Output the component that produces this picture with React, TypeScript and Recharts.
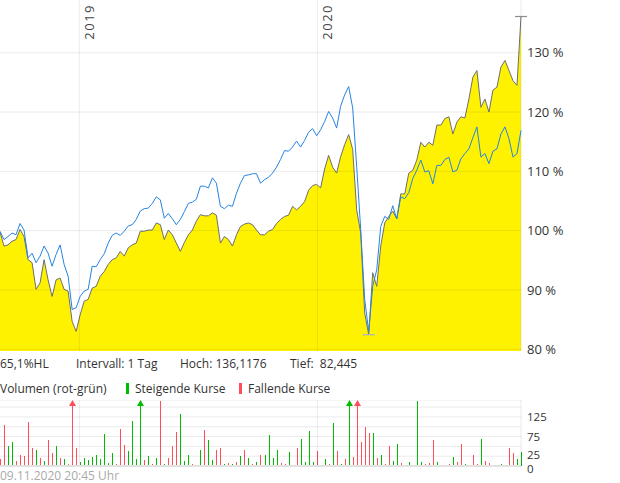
import { ComposedChart, BarChart, Area, Line, Bar, XAxis, YAxis, ReferenceLine, CartesianGrid } from 'recharts';

// Kurs in % (grau, gelb gefüllt) und Vergleichsindex (blau), ein Wert je ~4 px Zeitachse
const MAIN = [
  99.8, 97.4, 97.6, 98.2, 98.5, 100.2, 99.0, 95.1, 94.6, 90.1,
  91.2, 95.1, 91.7, 88.9, 91.7, 92.0, 90.1, 89.8, 84.7, 83.0,
  85.8, 88.1, 88.4, 90.3, 90.6, 92.3, 93.1, 94.3, 95.1, 95.4,
  96.5, 95.7, 97.1, 97.6, 97.9, 99.9, 99.9, 100.1, 100.1, 101.3,
  101.0, 98.5, 100.1, 99.3, 97.9, 96.5, 98.0, 99.3, 100.1, 101.6,
  102.7, 102.5, 102.5, 103.0, 102.6, 97.9, 99.0, 98.5, 97.4, 99.3,
  100.7, 101.1, 101.3, 101.0, 100.1, 99.3, 99.3, 99.9, 100.2, 101.2,
  101.9, 102.4, 102.6, 104.1, 103.5, 104.1, 104.9, 106.8, 107.6, 107.8,
  107.2, 110.4, 112.7, 110.7, 109.7, 112.5, 114.5, 116.2, 113.7, 103.5,
  99.6, 86.1, 82.445, 92.9, 90.6, 97.4, 101.3, 102.4, 103.3, 102.0,
  106.2, 106.2, 109.7, 110.2, 111.9, 114.9, 114.1, 114.9, 114.4, 117.8,
  117.8, 118.9, 119.2, 116.3, 118.3, 119.2, 119.0, 122.2, 125.9, 127.0,
  120.8, 122.2, 120.0, 123.7, 124.2, 127.6, 128.7, 127.0, 125.3, 124.5,
  136.1176,
];

const INDEX = [
  99.9, 98.5, 99.0, 99.6, 99.3, 101.2, 100.1, 95.4, 96.2, 94.6,
  95.7, 97.4, 96.2, 94.0, 96.0, 97.6, 94.3, 92.3, 86.7, 87.0,
  88.9, 89.8, 90.1, 94.0, 93.9, 95.1, 96.1, 97.9, 99.2, 99.6,
  99.2, 99.9, 100.8, 101.0, 101.9, 103.3, 103.7, 103.8, 104.6, 105.7,
  105.2, 102.1, 102.9, 102.0, 101.0, 101.9, 103.2, 104.6, 104.8, 105.3,
  107.5, 107.5, 107.2, 108.9, 108.0, 104.1, 103.7, 104.3, 104.1, 106.3,
  108.0, 109.3, 109.4, 109.6, 109.6, 108.0, 108.6, 109.0, 109.7, 110.7,
  112.0, 113.5, 113.4, 114.1, 115.1, 114.1, 115.2, 116.6, 117.2, 116.0,
  117.0, 118.4, 120.1, 119.0, 117.3, 121.0, 122.9, 124.3, 120.7, 110.8,
  100.2, 88.4, 83.0, 90.6, 93.4, 100.7, 102.4, 101.9, 104.2, 102.0,
  105.7, 105.4, 106.4, 108.8, 110.2, 111.9, 109.9, 110.1, 107.9, 111.0,
  111.0, 112.0, 112.4, 109.9, 110.2, 112.1, 113.0, 113.8, 115.7, 117.5,
  112.4, 113.0, 111.3, 113.4, 113.8, 116.3, 117.5, 115.5, 112.4, 113.0,
  116.9,
];

const VOLUME = [
  18, 104, 52, 62, 12, 29, 25, 112, 47, 42,
  21, 14, 65, 33, 52, 21, 17, 4, 200, 47,
  11, 20, 15, 22, 27, 17, 82, 7, 32, 6,
  94, 54, 37, 115, 17, 200, 15, 25, 5, 20,
  165, 6, 21, 52, 87, 132, 12, 27, 4, 3,
  40, 91, 67, 15, 42, 45, 6, 8, 5, 10,
  25, 42, 20, 6, 10, 27, 29, 79, 20, 40,
  8, 4, 35, 3, 46, 68, 10, 90, 10, 37,
  2, 18, 5, 110, 37, 5, 18, 200, 22, 200,
  61, 100, 85, 85, 21, 27, 4, 50, 12, 57,
  8, 2, 10, 2, 165, 10, 4, 8, 66, 11,
  3, 2, 6, 22, 10, 56, 5, 3, 27, 4,
  70, 12, 8, 3, 2, 6, 3, 46, 33, 18,
  36,
];

// u = steigend (grün), d = fallend (rot)
const VOL_DIR = (
  'dduudddddu' + 'duddududdd' + 'uuuuuuuuud' + 'dduuuududu' + 'duddduuudu' +
  'uduuddudud' + 'udududuuuu' + 'dduuduuuud' + 'uududududd' + 'dddududduu' +
  'duuduudddu' + 'dududduudd' + 'udduduuddu' + 'u'
).split('');

const PCT_TICKS = [80, 90, 100, 110, 120, 130];
const VOL_TICKS = [0, 25, 50, 75, 100, 125, 150];
const VOL_LABELS = [0, 25, 75, 125];
const YEAR_MARKS = [
  { label: '2019', pos: 19.8 },
  { label: '2020', pos: 79.2 },
];

const VOL_MAX = 168;
const GREEN = '#00bb00';
const RED = '#ff4d5a';
const GRID = 'rgba(0,0,0,0.08)';
const FONT = '"Open Sans", sans-serif';

const LAST = MAIN.length - 1;
const rows = MAIN.map((m, i) => ({ i, main: m, index: INDEX[i] }));
const volRows = VOLUME.map((v, i) => ({ i, v, dir: VOL_DIR[i] }));

const hi = Math.max(...MAIN);
const lo = Math.min(...MAIN);
const hiIdx = MAIN.indexOf(hi);
const loIdx = MAIN.indexOf(lo);
const de = (n: number) => String(n).replace('.', ',');

// kleine waagerechte Markierung an Hoch und Tief
const extremeDot = (props: any) => {
  const { cx, cy, index } = props;
  if (index !== hiIdx && index !== loIdx) return <g key={index} />;
  const color = index === hiIdx ? '#8c8c8c' : '#9fb0d8';
  return <line key={index} x1={cx - 6} x2={cx + 6} y1={cy} y2={cy} stroke={color} strokeWidth={1.2} />;
};

const yearLabel = (text: string) => (props: any) => {
  const x = props.viewBox.x + 15;
  return (
    <text transform={`translate(${x},4) rotate(-90)`} textAnchor="end" fontSize={13} fill="#444" letterSpacing={1.5} fontFamily={FONT}>
      {text}
    </text>
  );
};

// Volumen-Achse: nur 0, 25, 75, 125 beschriftet, 0 etwas tiefer gesetzt
const VolTick = (props: any) => {
  const { x, y, payload } = props;
  const v = payload.value;
  if (!VOL_LABELS.includes(v)) return <g />;
  return (
    <text x={x} y={y + (v === 0 ? 3 : v === 25 ? -1 : 0)} dy="0.355em" fontSize={11.5} fill="#333" fontFamily={FONT}>
      {v}
    </text>
  );
};

const VolBar = (props: any) => {
  const { x, y, width, height, payload, background } = props;
  const color = payload.dir === 'u' ? GREEN : RED;
  if (!height || height <= 0) return <g />;
  const base = y + height;
  const bx = Math.round(x);
  if (payload.v <= VOL_MAX) return <rect x={bx} y={y} width={1} height={height} fill={color} shapeRendering="crispEdges" />;
  const top = background && background.y != null ? background.y : base - (height * VOL_MAX) / payload.v;
  const cx = bx + 0.5;
  return (
    <g>
      <rect x={bx} y={top + 3} width={1} height={base - top - 3} fill={color} shapeRendering="crispEdges" />
      <path d={`M${cx} ${top} L${cx + 3.5} ${top + 6} L${cx - 3.5} ${top + 6} Z`} fill={color} />
    </g>
  );
};

export default function App() {
  const txt = { position: 'absolute' as const, fontSize: 12, lineHeight: '16px', whiteSpace: 'pre' as const };
  return (
    <div style={{ position: 'absolute', left: 0, top: 0, width: 620, height: 483, background: '#fff', fontFamily: FONT, color: '#333', overflow: 'hidden' }}>
      <div style={{ position: 'absolute', left: 0, top: 0 }}>
        <ComposedChart width={620} height={366} data={rows} margin={{ top: 0, right: 0, bottom: 15, left: 0 }}>
          <XAxis type="number" dataKey="i" domain={[0, LAST]} hide />
          <YAxis
            orientation="right"
            domain={[79.7, 138.9]}
            ticks={PCT_TICKS}
            interval={0}
            width={99}
            axisLine={false}
            tickLine={false}
            tickSize={0}
            tickMargin={6}
            tick={{ fill: '#333', fontSize: 13, fontFamily: FONT }}
            tickFormatter={(v) => `${v} %`}
          />
          <Area
            dataKey="main"
            type="linear"
            stroke="#6e6e6e"
            strokeWidth={1}
            fill="#fff200"
            fillOpacity={1}
            dot={extremeDot}
            activeDot={false}
            isAnimationActive={false}
          />
          {PCT_TICKS.map((v) => (
            <ReferenceLine key={v} y={v} stroke={GRID} />
          ))}
          {YEAR_MARKS.map((m) => (
            <ReferenceLine key={m.label} x={m.pos} stroke={GRID} label={yearLabel(m.label)} />
          ))}
          <ReferenceLine x={LAST} stroke={GRID} />
          <Line dataKey="index" type="linear" stroke="#2584e3" strokeWidth={1} dot={false} activeDot={false} isAnimationActive={false} />
        </ComposedChart>
      </div>

      <div style={{ ...txt, left: 0, top: 356 }}>{`${de(Math.round((hi / lo - 1) * 1000) / 10)}%HL`}</div>
      <div style={{ ...txt, left: 76, top: 356 }}>Intervall: 1 Tag</div>
      <div style={{ ...txt, left: 180, top: 356 }}>{`Hoch: ${de(hi)}`}</div>
      <div style={{ ...txt, left: 290, top: 356 }}>{`Tief:  ${de(lo)}`}</div>

      <div style={{ ...txt, left: 0, top: 381 }}>Volumen (rot-grün)</div>
      <div style={{ position: 'absolute', left: 126, top: 383, width: 3, height: 11, background: GREEN }} />
      <div style={{ ...txt, left: 135, top: 381 }}>Steigende Kurse</div>
      <div style={{ position: 'absolute', left: 239, top: 383, width: 3, height: 11, background: RED }} />
      <div style={{ ...txt, left: 248, top: 381 }}>Fallende Kurse</div>

      <div style={{ position: 'absolute', left: 0, top: 400 }}>
        <BarChart width={620} height={78} data={volRows} margin={{ top: 0, right: 0, bottom: 12, left: 0 }}>
          <CartesianGrid vertical={false} stroke="#ebebeb" />
          <XAxis type="number" dataKey="i" domain={[0, LAST]} hide />
          <YAxis
            orientation="right"
            domain={[0, VOL_MAX]}
            allowDataOverflow
            ticks={VOL_TICKS}
            interval={0}
            width={99}
            axisLine={false}
            tickLine={false}
            tickSize={0}
            tickMargin={6}
            tick={<VolTick />}
          />
          {YEAR_MARKS.map((m) => (
            <ReferenceLine key={m.label} x={m.pos} stroke={GRID} />
          ))}
          <ReferenceLine x={LAST} stroke={GRID} />
          <ReferenceLine y={0} stroke="#e2e2e2" strokeWidth={2} />
          <Bar dataKey="v" barSize={1} shape={VolBar} isAnimationActive={false} />
        </BarChart>
      </div>

      <div style={{ ...txt, left: 0, top: 469, lineHeight: '14px', color: '#aaa' }}>09.11.2020 20:45 Uhr</div>
    </div>
  );
}
